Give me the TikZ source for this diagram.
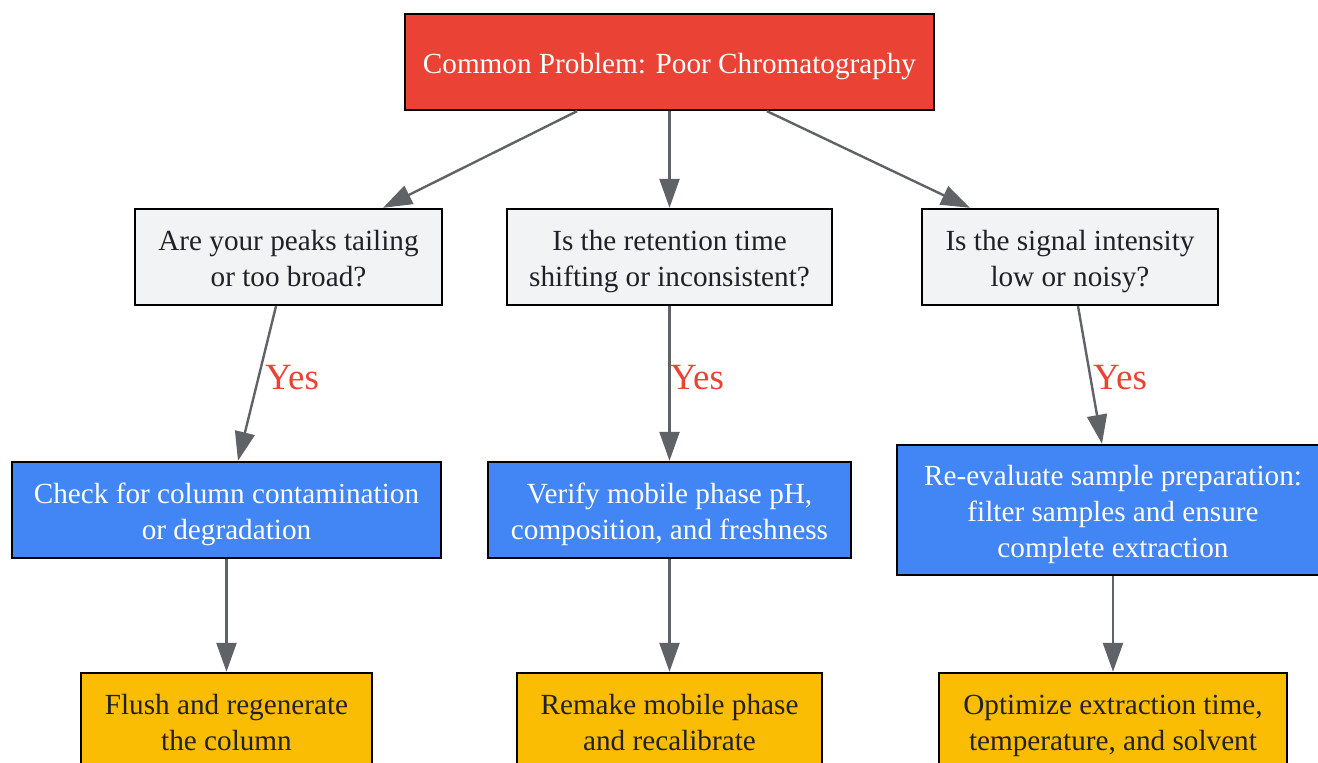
\documentclass[tikz,border=0pt]{standalone}
\usepackage{fontspec}
\setmainfont{Liberation Serif}
\usetikzlibrary{arrows.meta}
\definecolor{gred}{HTML}{EA4335}
\definecolor{gblue}{HTML}{4285F4}
\definecolor{gyellow}{HTML}{FBBC04}
\definecolor{ggray}{HTML}{F1F3F4}
\definecolor{gdark}{HTML}{202124}
\definecolor{gedge}{HTML}{5F6368}
\newcommand\tstrut{\rule{0pt}{31pt}}
\newcommand\bstrut{\rule[-8pt]{0pt}{8pt}}
\tikzset{
  box/.style={draw=black, line width=2.4pt, inner sep=0pt, align=center,
    font=\fontsize{29.2}{36}\selectfont},
  probbox/.style={box, fill=gred, text=white},
  qbox/.style={box, fill=ggray, text=gdark},
  actbox/.style={box, fill=gblue, text=white},
  fixbox/.style={box, fill=gyellow, text=gdark},
  conn/.style={draw=gedge, line width=2.4pt, -{Triangle[length=29pt,width=20pt]}},
  yeslab/.style={text=gred, font=\fontsize{37}{44}\selectfont, inner sep=0pt}
}
\begin{document}
\begin{tikzpicture}[x=1pt,y=-1pt]
\useasboundingbox (0,0) rectangle (1318,763);
\clip (0,0) rectangle (1318,763);
\node[probbox, minimum width=529pt, minimum height=96pt] (top) at (669.5,62) {\tstrut Common Problem: Poor Chromatography\bstrut};
\node[qbox, minimum width=307pt, minimum height=96pt] (q1) at (288.5,257) {\tstrut Are your peaks tailing\\or too broad?\bstrut};
\node[qbox, minimum width=325pt, minimum height=96pt] (q2) at (669.5,257) {\tstrut Is the retention time\\shifting or inconsistent?\bstrut};
\node[qbox, minimum width=296pt, minimum height=96pt] (q3) at (1070,257) {\tstrut Is the signal intensity\\low or noisy?\bstrut};
\node[actbox, minimum width=429pt, minimum height=96pt] (a1) at (226.5,510) {\tstrut Check for column contamination\\or degradation\bstrut};
\node[actbox, minimum width=363pt, minimum height=96pt] (a2) at (669.5,510) {\tstrut Verify mobile phase pH,\\composition, and freshness\bstrut};
\node[actbox, minimum width=432pt, minimum height=130pt] (a3) at (1113,510) {\tstrut Re-evaluate sample preparation:\\filter samples and ensure\\complete extraction\bstrut};
\node[fixbox, minimum width=291pt, minimum height=96pt] (b1) at (226.5,721) {\tstrut Flush and regenerate\\the column\bstrut};
\node[fixbox, minimum width=305pt, minimum height=96pt] (b2) at (669.5,721) {\tstrut Remake mobile phase\\and recalibrate\bstrut};
\node[fixbox, minimum width=348pt, minimum height=96pt] (b3) at (1113,721) {\tstrut Optimize extraction time,\\temperature, and solvent\bstrut};

\draw[conn] ([xshift=-92.5pt]top.south) -- ([xshift=94.5pt]q1.north);
\draw[conn] (top.south) -- (q2.north);
\draw[conn] ([xshift=97.5pt]top.south) -- ([xshift=-100pt]q3.north);

\draw[conn] ([xshift=-12.5pt]q1.south) -- ([xshift=11.5pt]a1.north);
\draw[conn] (q2.south) -- (a2.north);
\draw[conn] ([xshift=8pt]q3.south) -- ([xshift=-11pt]a3.north);

\node[yeslab] (y1) at (292,378) {Yes};
\node[yeslab] (y2) at (697,378) {Yes};
\node[yeslab] (y3) at (1120,378) {Yes};

\draw[conn] (a1.south) -- (b1.north);
\draw[conn] (a2.south) -- (b2.north);
\draw[conn] (a3.south) -- (b3.north);
\end{tikzpicture}
\end{document}
